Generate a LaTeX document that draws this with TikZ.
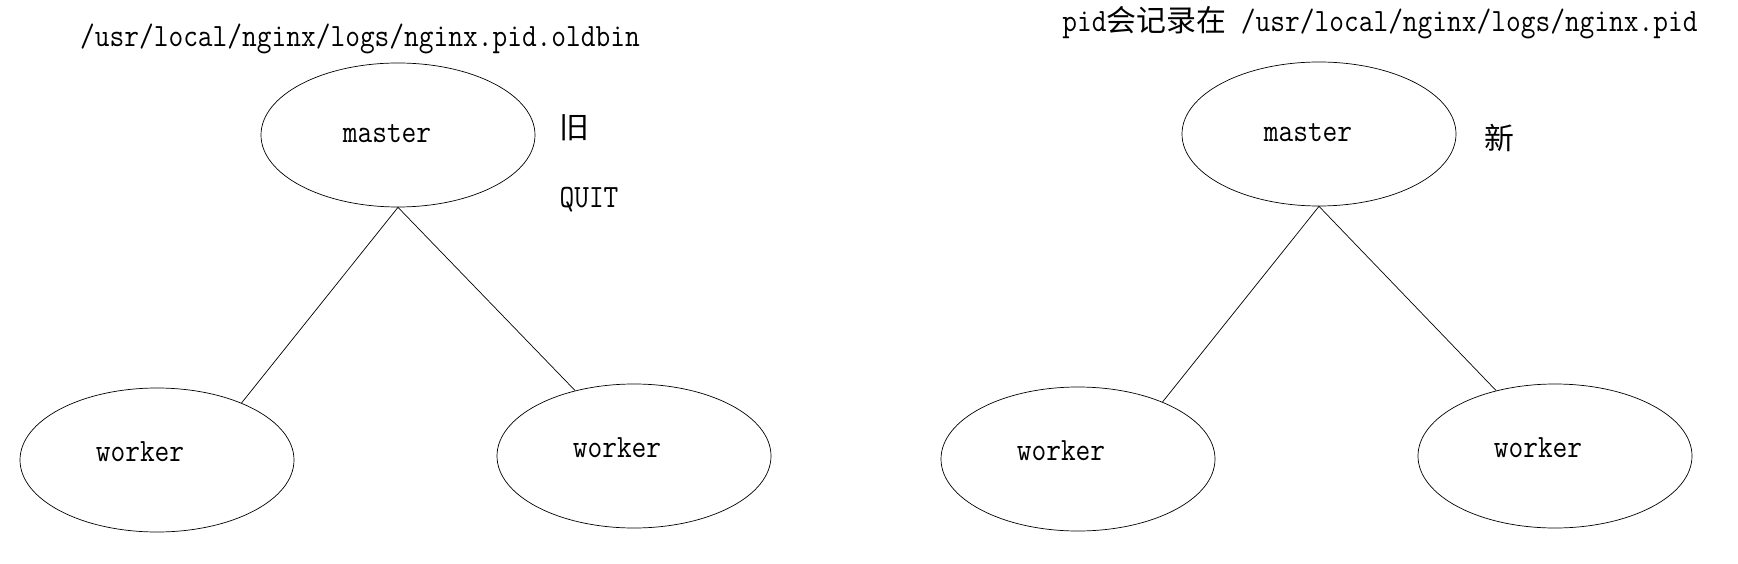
\documentclass[tikz,border=0pt]{standalone}
\usepackage{fontspec}
\setmonofont[FakeStretch=0.88]{Latin Modern Mono}
\newfontfamily\cjk[Scale=0.92]{Noto Sans CJK SC}
\usetikzlibrary{shapes.geometric, positioning}

\begin{document}
\begin{tikzpicture}[x=1pt, y=-1pt, on grid,
  every node/.style={font=\fontsize{32.5}{38}\selectfont\ttfamily},
  proc/.style={ellipse, draw, line width=0.7pt, minimum width=274pt, minimum height=144pt, inner sep=0pt},
  mtext/.style={label={[xshift=-11pt, yshift=1pt]center:#1}},
  wtext/.style={label={[xshift=-17pt, yshift=8pt]center:#1}}]
  \useasboundingbox (0,0) rectangle (1738,564);
  % old master
  \node[proc, mtext=master] (m1) at (398,135) {};
  \node[proc, wtext=worker] (w1) [below left=325pt and 241pt of m1] {};
  \node[proc, wtext=worker] (w2) [below right=321pt and 236pt of m1] {};
  \node (p1) at (360,39) {/usr/local/nginx/logs/nginx.pid.oldbin};
  \node (old) at (574,128) {\cjk 旧};
  \node (quit) at (589,200) {QUIT};
  % new master
  \node[proc, mtext=master] (m2) at (1319,134) {};
  \node[proc, wtext=worker] (w3) [below left=325pt and 241pt of m2] {};
  \node[proc, wtext=worker] (w4) [below right=322pt and 236pt of m2] {};
  \node (p2) at (1380,23) {pid{\cjk 会记录在} /usr/local/nginx/logs/nginx.pid};
  \node (new) at (1499,138) {\cjk 新};

  \path[line width=0.7pt]
  (m1.south) edge (w1.34)
  (m1.south) edge (w2.132)
  (m2.south) edge (w3.34)
  (m2.south) edge (w4.132)
  ;
\end{tikzpicture}
\end{document}
